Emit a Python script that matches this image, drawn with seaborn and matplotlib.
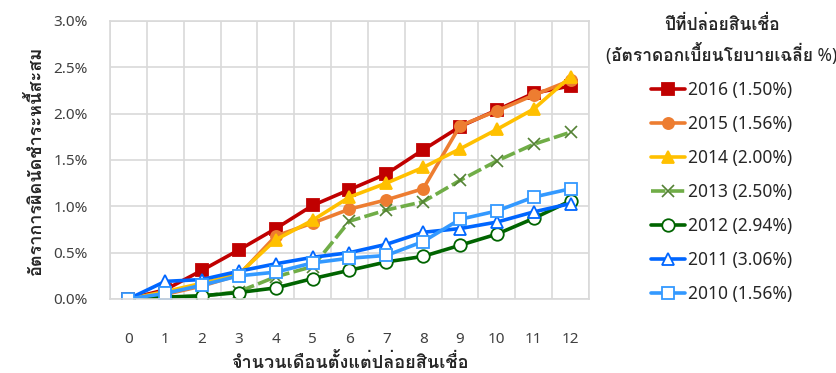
import matplotlib
matplotlib.use("Agg")
import matplotlib.pyplot as plt
import seaborn as sns
import numpy as np
import pandas as pd

# data (cumulative default rate, %)
months = list(range(13))
labels = ["2016 (1.50%)", "2015 (1.56%)", "2014 (2.00%)", "2013 (2.50%)",
          "2012 (2.94%)", "2011 (3.06%)", "2010 (1.56%)"]
y2016 = [0.00, 0.10, 0.31, 0.53, 0.76, 1.01, 1.18, 1.35, 1.61, 1.86, 2.04, 2.22, 2.30]
y2015 = [0.00, 0.05, 0.14, 0.26, 0.68, 0.82, 0.97, 1.07, 1.19, 1.87, 2.03, 2.20, 2.36]
y2014 = [0.00, 0.08, 0.17, 0.27, 0.64, 0.85, 1.10, 1.25, 1.42, 1.62, 1.83, 2.05, 2.40]
y2013 = [0.00, 0.02, 0.03, 0.08, 0.24, 0.35, 0.84, 0.96, 1.05, 1.28, 1.49, 1.67, 1.80]
y2012 = [0.00, 0.02, 0.035, 0.07, 0.12, 0.22, 0.31, 0.40, 0.46, 0.58, 0.70, 0.87, 1.06]
y2011 = [0.00, 0.19, 0.21, 0.30, 0.38, 0.45, 0.50, 0.59, 0.72, 0.76, 0.83, 0.94, 1.03]
y2010 = [0.00, 0.06, 0.15, 0.25, 0.29, 0.39, 0.44, 0.47, 0.62, 0.86, 0.95, 1.10, 1.19]
series = [y2016, y2015, y2014, y2013, y2012, y2011, y2010]

colors = ["#C00000", "#ED7D31", "#FFC000", "#70AD47", "#006400", "#0066FF", "#3399FF"]
markers = ["s", "o", "^", "x", "o", "^", "s"]

sns.set_style("white")
# Loma draws Thai tone marks in the right place without shaping
plt.rcParams["font.family"] = ["Noto Sans", "Loma"]

fig = plt.figure(figsize=(8.37, 3.73), dpi=100)
ax = fig.add_axes([0.1314, 0.1984, 0.5723, 0.7453])

for vals, lab, col, mk in zip(series, labels, colors, markers):
    df = pd.DataFrame({"month": months, "rate": np.array(vals) / 100})
    hollow = lab[:4] in ("2012", "2011", "2010")
    kw = dict(marker=mk, markersize=8, markeredgewidth=1.3)
    if hollow:
        kw.update(markerfacecolor="white", markeredgecolor=col, markersize=9)
    elif mk == "x":
        kw.update(markeredgecolor="#548235", markersize=8.5, markeredgewidth=1.2)
    else:
        kw.update(markerfacecolor=col, markeredgecolor=col)
    sns.lineplot(data=df, x="month", y="rate", color=col, linewidth=2.6,
                 linestyle=(0, (4, 1.2)) if mk == "x" else "-", ax=ax,
                 label=lab, **kw)

ax.set_xlim(-0.5, 12.5)
ax.set_ylim(0, 0.03)
ax.set_xticks(months)
ax.set_xticks(np.arange(-0.5, 13, 1), minor=True)
ax.set_yticks(np.arange(0, 0.031, 0.005))
ax.set_yticklabels([f"{v * 100:.1f}%" for v in np.arange(0, 0.031, 0.005)])
ax.grid(False)
ax.grid(which="minor", axis="x", color="#D9D9D9", linewidth=1.2)
ax.grid(which="major", axis="y", color="#D9D9D9", linewidth=1.2)
ax.set_axisbelow(True)
ax.tick_params(which="both", length=0)
ax.tick_params(axis="x", labelsize=11, pad=24, labelcolor="#404040")
ax.tick_params(axis="y", labelsize=11, pad=16, labelcolor="#404040")
for s in ax.spines.values():
    s.set_color("#D9D9D9")
    s.set_linewidth(1.2)

ax.set_xlabel("จำนวนเดือนตั้งแต่ปล่อยสินเชื่อ", fontsize=13, fontweight="bold", labelpad=4)
ax.set_ylabel("อัตราการผิดนัดชำระหนี้สะสม", fontsize=13, fontweight="bold", labelpad=6)

leg = ax.legend(loc="upper center", bbox_to_anchor=(0.862, 1.0), bbox_transform=fig.transFigure,
                frameon=False, fontsize=12.5,
                title="ปีที่ปล่อยสินเชื่อ\n(อัตราดอกเบี้ยนโยบายเฉลี่ย %)",
                title_fontsize=12.5, handlelength=2.0, handletextpad=0.15,
                labelspacing=0.92, numpoints=1)
leg.get_title().set_fontweight("bold")
leg.get_title().set_multialignment("center")
leg.get_title().set_linespacing(1.5)

fig.savefig("out.png", dpi=100)
